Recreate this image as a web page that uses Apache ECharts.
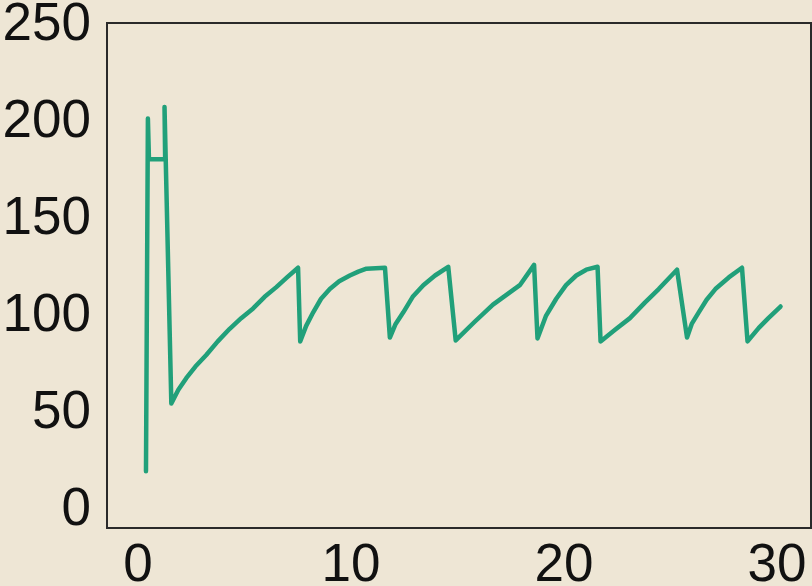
<!DOCTYPE html>
<html>
<head>
<meta charset="utf-8">
<script src="https://cdn.jsdelivr.net/npm/echarts@6/dist/echarts.min.js"></script>
<style>
  html, body { margin: 0; padding: 0; background: #eee6d5; }
  #chart { width: 812px; height: 586px; }
</style>
</head>
<body>
<div id="chart"></div>
<script>
// values
var timeValues = [0.38, 0.47, 0.52, 1.28, 1.25,
	1.57, 1.9, 2.27, 2.7, 3.21, 3.75, 4.31, 4.85, 5.41, 5.95, 6.5, 7.0, 7.52,
	7.62, 7.9, 8.23, 8.6, 9.01, 9.45, 9.95, 10.35, 10.73, 11.6,
	11.83, 12.1, 12.46, 12.9, 13.4, 13.95, 14.57,
	14.92, 15.8, 16.67, 17.3, 17.93, 18.6,
	18.76, 19.15, 19.64, 20.1, 20.58, 21.05, 21.58,
	21.72, 22.4, 23.1, 23.8, 24.45, 25.31,
	25.78, 26.0, 26.33, 26.7, 27.11, 27.74, 28.36,
	28.62, 29.15, 29.6, 30.17];
var levelValues = [20, 202, 181, 181, 208,
	55, 62, 68, 74, 80, 87, 93.5, 99, 104, 110, 115, 120, 125,
	87, 95, 102, 109, 114, 118, 121, 123, 124.5, 125,
	89, 96, 102, 110, 116, 121, 125.5,
	87.5, 97, 106, 111, 116, 126.5,
	88.5, 100, 109, 116, 121, 124, 125.5,
	87, 93, 99, 107, 114, 124,
	89, 96, 102, 108.5, 114, 120, 125,
	87, 94, 99, 105];
var xTicks = [0, 10, 20, 30];
var yTicks = [0, 50, 100, 150, 200, 250];

var chartDom = document.getElementById('chart');
var myChart = echarts.init(chartDom, null, { renderer: 'canvas' });

var labelFont = {
	fontFamily: 'Liberation Sans, Arial, sans-serif',
	fontSize: 53,
	color: '#111'
};

var option = {
	backgroundColor: '#eee6d5',
	animation: false,
	grid: {
		left: 107,
		top: 23,
		right: 1,
		bottom: 58,
		outerBoundsMode: 'none',
		containLabel: false,
		show: true,
		borderColor: '#2a2a2a',
		borderWidth: 2,
		backgroundColor: 'transparent'
	},
	xAxis: {
		type: 'value',
		min: -1.45,
		max: 31.6,
		axisLine: { show: false },
		axisTick: { show: false },
		splitLine: { show: false },
		axisLabel: Object.assign({
			customValues: xTicks,
			margin: 12
		}, labelFont)
	},
	yAxis: {
		type: 'value',
		min: -9.3,
		max: 251.3,
		axisLine: { show: false },
		axisTick: { show: false },
		splitLine: { show: false },
		axisLabel: Object.assign({
			customValues: yTicks,
			margin: 16
		}, labelFont)
	},
	series: [{
		type: 'line',
		data: timeValues.map(function (t, i) { return [t, levelValues[i]]; }),
		symbol: 'none',
		smooth: false,
		lineStyle: {
			color: '#21a07a',
			width: 4.5,
			join: 'round',
			cap: 'round'
		}
	}]
};

myChart.setOption(option);
</script>
</body>
</html>
